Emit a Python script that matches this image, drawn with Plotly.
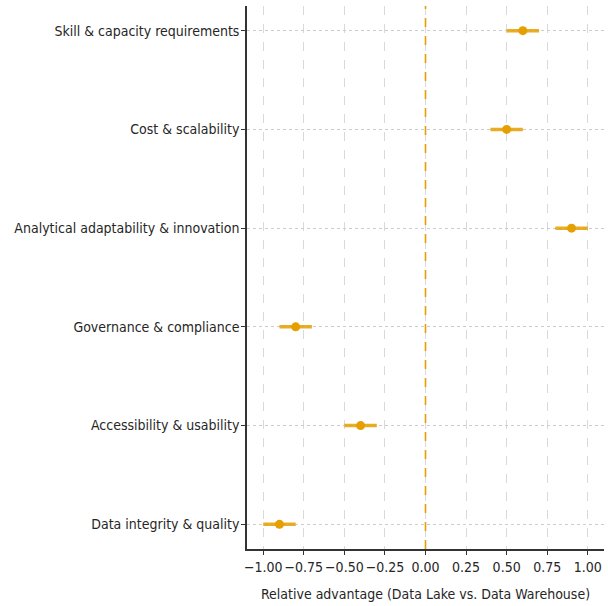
import plotly.graph_objects as go

categories = [
    "Data integrity & quality",
    "Accessibility & usability",
    "Governance & compliance",
    "Analytical adaptability & innovation",
    "Cost & scalability",
    "Skill & capacity requirements",
]
advantage = [-0.9, -0.4, -0.8, 0.9, 0.5, 0.6]
uncertainty = [0.1, 0.1, 0.1, 0.1, 0.1, 0.1]
x_ticks = [-1.0, -0.75, -0.5, -0.25, 0.0, 0.25, 0.5, 0.75, 1.0]
x_tick_labels = ["\u22121.00", "\u22120.75", "\u22120.50", "\u22120.25", "0.00", "0.25", "0.50", "0.75", "1.00"]

color = "#E69F00"
font_family = "DejaVu Sans Condensed, DejaVu Sans, sans-serif"

fig = go.Figure()
fig.add_trace(go.Scatter(
    x=advantage,
    y=list(range(len(categories))),
    mode="markers",
    marker=dict(color=color, size=9),
    error_x=dict(type="data", array=uncertainty, thickness=3.5, width=0,
                 color="rgba(230,159,0,0.85)"),
    showlegend=False,
))

fig.add_vline(x=0, line=dict(color=color, width=1.6, dash="dash"))

fig.update_layout(
    width=608, height=606,
    margin=dict(l=247, r=4, t=6, b=57),
    paper_bgcolor="white", plot_bgcolor="white",
    font=dict(family=font_family, size=14, color="#262626"),
    xaxis=dict(
        range=[-1.1, 1.1],
        tickvals=x_ticks, ticktext=x_tick_labels, tickangle=0,
        showgrid=True, gridcolor="#d9d9d9", griddash="dash", gridwidth=1,
        zeroline=False, automargin=False,
        showline=True, linecolor="#333333", linewidth=1.5,
        ticks="outside", ticklen=4, tickcolor="#333333",
        title=dict(text="Relative advantage (Data Lake vs. Data Warehouse)",
                   font=dict(size=14), standoff=16),
        tickfont=dict(size=14),
    ),
    yaxis=dict(
        range=[-0.25, 5.25],
        tickvals=list(range(len(categories))), ticktext=categories,
        showgrid=True, gridcolor="#cccccc", griddash="dot", gridwidth=1,
        zeroline=False, automargin=False,
        showline=True, linecolor="#333333", linewidth=1.5,
        ticks="outside", ticklen=4, tickcolor="#333333",
        tickfont=dict(size=14), ticklabelstandoff=-1,
    ),
)

fig.write_html("out.html", config={"displayModeBar": False},
               post_script="document.body.style.margin='0';")
